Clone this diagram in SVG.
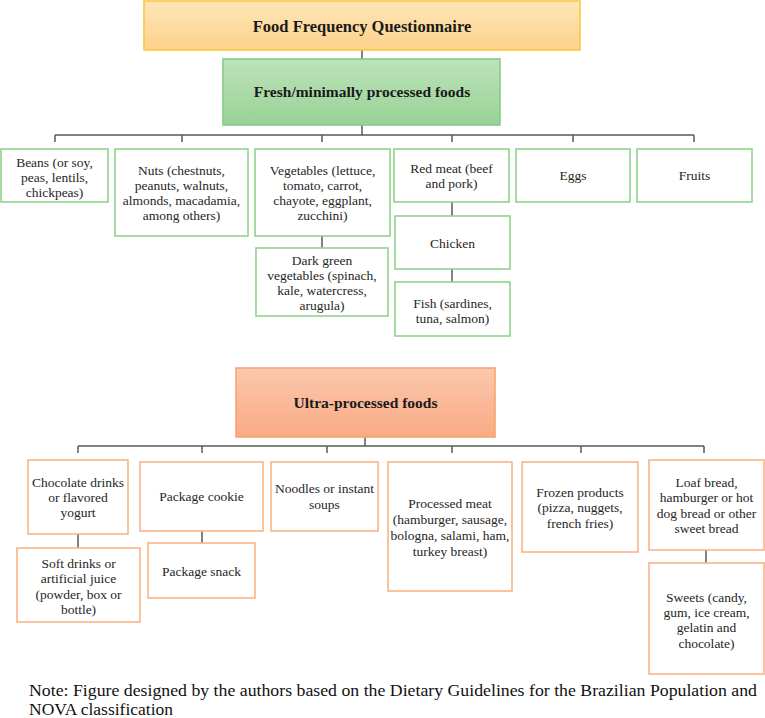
<svg xmlns="http://www.w3.org/2000/svg" width="765" height="718" viewBox="0 0 765 718">
<defs>
<linearGradient id="gY" x1="0" y1="0" x2="0" y2="1"><stop offset="0" stop-color="#fee6b8"/><stop offset="1" stop-color="#fdd28b"/></linearGradient>
<linearGradient id="gG" x1="0" y1="0" x2="0" y2="1"><stop offset="0" stop-color="#bde3ba"/><stop offset="1" stop-color="#98d295"/></linearGradient>
<linearGradient id="gO" x1="0" y1="0" x2="0" y2="1"><stop offset="0" stop-color="#fcc8ad"/><stop offset="1" stop-color="#f9aa84"/></linearGradient>
</defs>
<style>
text{fill:#262626;text-anchor:middle;font-family:'Liberation Serif','Times New Roman',serif}
.t{font-size:15.5px;font-weight:bold;fill:#1a1a1a}
.b{font-size:13.5px}
.g{fill:#fff;stroke:#90d28d;stroke-width:1.6}
.o{fill:#fff;stroke:#f9b387;stroke-width:1.6}
.c{stroke:#5a5a5a;stroke-width:1.5;fill:none}
.note{font-size:17.5px;text-anchor:start;fill:#111}
</style>
<g id="connectors">
<path class="c" d="M362 50V59M362 125V135M55 135H694M55 135V142M182 135V142M322 135V142M452 135V142M573 135V142M694 135V142M322 236V248M452 202V216M452 269V282"/>
<path class="c" d="M365 437V446M78 446H704M78 446V453M202 446V453M327 446V453M452 446V453M581 446V453M704 446V453M78 534V548M202 531V543M706 550V563"/>
</g>
<g id="ffq"><rect x="144" y="1" width="436" height="49" fill="url(#gY)" stroke="#fcc842" stroke-width="1.6"/><text class="t" x="362" y="32" style="font-size:16.5px">Food Frequency Questionnaire</text></g>
<g id="fresh"><rect x="223" y="59" width="277" height="66" fill="url(#gG)" stroke="#86cc83" stroke-width="1.6"/><text class="t" x="362" y="97">Fresh/minimally processed foods</text></g>
<g id="beans"><rect class="g" x="1" y="149" width="107" height="53"/><text class="b" x="54.5" y="166.5">Beans (or soy,</text><text class="b" x="54.5" y="181.5">peas, lentils,</text><text class="b" x="54.5" y="196.5">chickpeas)</text></g>
<g id="nuts"><rect class="g" x="115" y="149" width="133" height="87"/><text class="b" x="181.5" y="174.5">Nuts (chestnuts,</text><text class="b" x="181.5" y="189.5">peanuts, walnuts,</text><text class="b" x="181.5" y="204.5">almonds, macadamia,</text><text class="b" x="181.5" y="219.5">among others)</text></g>
<g id="veg"><rect class="g" x="255" y="149" width="135" height="87"/><text class="b" x="322.5" y="174.5">Vegetables (lettuce,</text><text class="b" x="322.5" y="189.5">tomato, carrot,</text><text class="b" x="322.5" y="204.5">chayote, eggplant,</text><text class="b" x="322.5" y="219.5">zucchini)</text></g>
<g id="darkgreen"><rect class="g" x="256" y="248" width="132" height="68"/><text class="b" x="322" y="264.5">Dark green</text><text class="b" x="322" y="279.5">vegetables (spinach,</text><text class="b" x="322" y="294.5">kale, watercress,</text><text class="b" x="322" y="309.5">arugula)</text></g>
<g id="redmeat"><rect class="g" x="394" y="149" width="115" height="53"/><text class="b" x="451.5" y="172.5">Red meat (beef</text><text class="b" x="451.5" y="187.5">and pork)</text></g>
<g id="eggs"><rect class="g" x="516" y="149" width="114" height="53"/><text class="b" x="573" y="179.5">Eggs</text></g>
<g id="fruits"><rect class="g" x="637" y="149" width="115" height="53"/><text class="b" x="694.5" y="179.5">Fruits</text></g>
<g id="chicken"><rect class="g" x="395" y="216" width="115" height="53"/><text class="b" x="452.5" y="247.5">Chicken</text></g>
<g id="fish"><rect class="g" x="395" y="282" width="115" height="54"/><text class="b" x="452.5" y="307.5">Fish (sardines,</text><text class="b" x="452.5" y="322.5">tuna, salmon)</text></g>
<g id="ultra"><rect x="236" y="368" width="259" height="69" fill="url(#gO)" stroke="#f9a36e" stroke-width="1.6"/><text class="t" x="365.5" y="408">Ultra-processed foods</text></g>
<g id="choc"><rect class="o" x="28" y="460" width="100" height="74"/><text class="b" x="78" y="486.5">Chocolate drinks</text><text class="b" x="78" y="501.5">or flavored</text><text class="b" x="78" y="517">yogurt</text></g>
<g id="cookie"><rect class="o" x="140" y="462" width="123" height="69"/><text class="b" x="201.5" y="501">Package cookie</text></g>
<g id="noodles"><rect class="o" x="271" y="462" width="107" height="69"/><text class="b" x="324.5" y="492.5">Noodles or instant</text><text class="b" x="324.5" y="509">soups</text></g>
<g id="procmeat"><rect class="o" x="388" y="462" width="124" height="129"/><text class="b" x="450" y="507.5">Processed meat</text><text class="b" x="450" y="523.5">(hamburger, sausage,</text><text class="b" x="450" y="539.5">bologna, salami, ham,</text><text class="b" x="450" y="555.5">turkey breast)</text></g>
<g id="frozen"><rect class="o" x="522" y="462" width="116" height="90"/><text class="b" x="580" y="496.5">Frozen products</text><text class="b" x="580" y="511.5">(pizza, nuggets,</text><text class="b" x="580" y="527.5">french fries)</text></g>
<g id="loaf"><rect class="o" x="649" y="460" width="115" height="90"/><text class="b" x="706.5" y="486.5">Loaf bread,</text><text class="b" x="706.5" y="501.5">hamburger or hot</text><text class="b" x="706.5" y="517.5">dog bread or other</text><text class="b" x="706.5" y="532.5">sweet bread</text></g>
<g id="softdrinks"><rect class="o" x="17" y="548" width="123" height="74"/><text class="b" x="78.5" y="567.5">Soft drinks or</text><text class="b" x="78.5" y="582.5">artificial juice</text><text class="b" x="78.5" y="598.5">(powder, box or</text><text class="b" x="78.5" y="613.5">bottle)</text></g>
<g id="snack"><rect class="o" x="148" y="543" width="107" height="55"/><text class="b" x="201.5" y="575.5">Package snack</text></g>
<g id="sweets"><rect class="o" x="649" y="563" width="115" height="111"/><text class="b" x="706.5" y="601.5">Sweets (candy,</text><text class="b" x="706.5" y="616.5">gum, ice cream,</text><text class="b" x="706.5" y="631.5">gelatin and</text><text class="b" x="706.5" y="647.5">chocolate)</text></g>
<text class="note" x="29" y="696" textLength="728" lengthAdjust="spacingAndGlyphs">Note: Figure designed by the authors based on the Dietary Guidelines for the Brazilian Population and</text>
<text class="note" x="29" y="714.5">NOVA classification</text>
</svg>
